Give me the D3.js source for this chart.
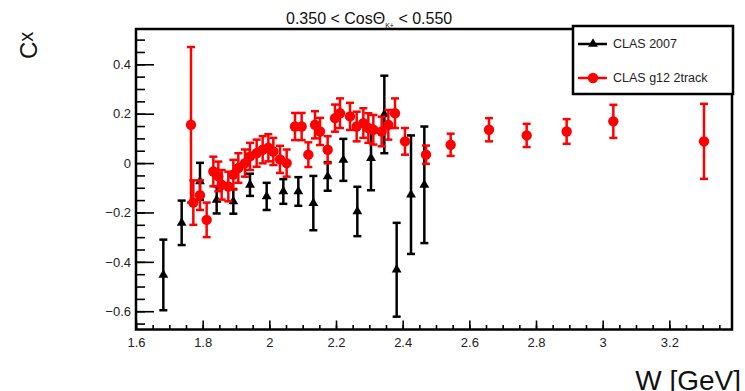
<!DOCTYPE html>
<html>
<head>
<meta charset="utf-8">
<script src="https://cdn.jsdelivr.net/npm/d3@7"></script>
<style>
    body { margin: 0; background: #fff; }
    svg { display: block; font-family: 'Liberation Sans', Arial, sans-serif; }
</style>
</head>
<body>
<div id="chart"></div>
<script>
'use strict';

// CLAS 2007 points
const w2007 = [1.682, 1.737, 1.792, 1.842, 1.892, 1.942, 1.992, 2.042, 2.087, 2.132,
    2.175, 2.222, 2.264, 2.305, 2.345, 2.382, 2.425, 2.465];
const cx2007 = [-0.453, -0.242, -0.074, -0.149, -0.155, -0.088, -0.135, -0.115, -0.115, -0.162,
    -0.054, 0.013, -0.196, 0.020, 0.197, -0.432, -0.128, -0.088];
const err2007 = [0.143, 0.090, 0.075, 0.055, 0.050, 0.045, 0.055, 0.050, 0.058, 0.110,
    0.058, 0.085, 0.100, 0.130, 0.157, 0.190, 0.240, 0.236];

// CLAS g12 2track points
const wG12 = [1.765, 1.772, 1.792, 1.812, 1.832, 1.847, 1.857, 1.877, 1.892, 1.907,
    1.927, 1.942, 1.962, 1.980, 1.997, 2.012, 2.032, 2.052, 2.077, 2.097,
    2.117, 2.137, 2.152, 2.175, 2.197, 2.212, 2.242, 2.262, 2.282, 2.297,
    2.312, 2.337, 2.357, 2.377, 2.407, 2.470, 2.544, 2.659, 2.772, 2.892,
    3.032, 3.187, 3.304];
const cxG12 = [0.155, -0.160, -0.130, -0.230, -0.034, -0.054, -0.088, -0.095, -0.047, -0.020,
    0.000, 0.027, 0.040, 0.054, 0.062, 0.047, 0.015, 0.000, 0.148, 0.148,
    0.034, 0.155, 0.128, 0.054, 0.182, 0.202, 0.189, 0.148, 0.162, 0.142,
    0.135, 0.128, 0.155, 0.202, 0.088, 0.034, 0.074, 0.135, 0.112, 0.128,
    0.169, 0.405, 0.088];
const errG12 = [0.315, 0.090, 0.060, 0.070, 0.060, 0.060, 0.060, 0.060, 0.060, 0.060,
    0.055, 0.055, 0.055, 0.055, 0.055, 0.055, 0.055, 0.055, 0.055, 0.055,
    0.050, 0.055, 0.055, 0.055, 0.055, 0.060, 0.055, 0.060, 0.060, 0.060,
    0.060, 0.060, 0.060, 0.060, 0.054, 0.037, 0.045, 0.047, 0.047, 0.050,
    0.067, 0.090, 0.152];

const xTicks = [1.6, 1.8, 2.0, 2.2, 2.4, 2.6, 2.8, 3.0, 3.2];
const yTicks = [-0.6, -0.4, -0.2, 0, 0.2, 0.4];

const width = 745;
const height = 391;
const margin = { top: 29, right: 13, bottom: 61.5, left: 136 };
const chartWidth = width - margin.left - margin.right;
const chartHeight = height - margin.top - margin.bottom;

const svg = d3.select('#chart')
    .append('svg')
    .attr('width', width)
    .attr('height', height);

const chart = svg.append('g')
    .attr('transform', `translate(${margin.left},${margin.top})`);

// scales
const xScale = d3.scaleLinear()
    .domain([1.6, 3.388])
    .range([0, chartWidth]);

const yScale = d3.scaleLinear()
    .domain([-0.674, 0.543])
    .range([chartHeight, 0]);

function numFormat(d) {
    if (Math.abs(d) < 1e-9) return '0';
    return d3.format('~g')(+d.toFixed(2)).replace('-', '\u2212');
}

// minor ticks
chart.append('g')
    .attr('transform', `translate(0,${chartHeight})`)
    .call(d3.axisBottom(xScale)
        .tickValues(d3.range(1.6, 3.38, 0.05))
        .tickSize(-4.5)
        .tickFormat(''))
    .call(g => g.select('.domain').remove());

chart.append('g')
    .call(d3.axisLeft(yScale)
        .tickValues(d3.range(-0.65, 0.53, 0.05))
        .tickSize(-9)
        .tickFormat(''))
    .call(g => g.select('.domain').remove());

// major ticks and labels
const xAxis = chart.append('g')
    .attr('transform', `translate(0,${chartHeight})`)
    .call(d3.axisBottom(xScale)
        .tickValues(xTicks)
        .tickSize(-9)
        .tickPadding(8)
        .tickFormat(numFormat));
xAxis.select('.domain').remove();

const yAxis = chart.append('g')
    .call(d3.axisLeft(yScale)
        .tickValues(yTicks)
        .tickSize(-18)
        .tickPadding(5)
        .tickFormat(numFormat));
yAxis.select('.domain').remove();

chart.selectAll('.tick line')
    .attr('stroke', '#000')
    .attr('stroke-width', 1.6);
chart.selectAll('.tick text')
    .attr('font-size', 13)
    .attr('font-family', "'Liberation Sans', Arial, sans-serif")
    .attr('fill', '#222');

// frame
chart.append('rect')
    .attr('width', chartWidth)
    .attr('height', chartHeight)
    .attr('fill', 'none')
    .attr('stroke', '#000')
    .attr('stroke-width', 2.5);

// draws one series with error bars
function drawSeries(ws, vals, errs, colour, marker) {
    const pts = ws.map(function (w, i) {
        return { w: w, v: vals[i], e: errs[i] };
    });
    const g = chart.append('g');

    g.selectAll('line.bar')
        .data(pts)
        .join('line')
        .attr('class', 'bar')
        .attr('x1', d => xScale(d.w))
        .attr('x2', d => xScale(d.w))
        .attr('y1', d => yScale(d.v - d.e))
        .attr('y2', d => yScale(d.v + d.e))
        .attr('stroke', colour)
        .attr('stroke-width', 2.5);

    const caps = pts.flatMap(d => [d.v - d.e, d.v + d.e].map(y => ({ w: d.w, y: y })));
    g.selectAll('line.cap')
        .data(caps)
        .join('line')
        .attr('class', 'cap')
        .attr('x1', d => xScale(d.w) - 4)
        .attr('x2', d => xScale(d.w) + 4)
        .attr('y1', d => yScale(d.y))
        .attr('y2', d => yScale(d.y))
        .attr('stroke', colour)
        .attr('stroke-width', 2.5);

    if (marker === 'circle') {
        g.selectAll('circle')
            .data(pts)
            .join('circle')
            .attr('cx', d => xScale(d.w))
            .attr('cy', d => yScale(d.v))
            .attr('r', 5.2)
            .attr('fill', colour);
    } else {
        g.selectAll('path.mk')
            .data(pts)
            .join('path')
            .attr('class', 'mk')
            .attr('transform', d => `translate(${xScale(d.w)},${yScale(d.v)})`)
            .attr('d', d3.symbol(d3.symbolTriangle, 42))
            .attr('fill', colour);
    }
}

drawSeries(w2007, cx2007, err2007, '#000', 'triangle');

// legend (drawn before the g12 points, which sit on top of it)
const legend = svg.append('g');
legend.append('rect')
    .attr('x', 573)
    .attr('y', 26)
    .attr('width', 160)
    .attr('height', 68)
    .attr('fill', '#fff')
    .attr('stroke', '#000')
    .attr('stroke-width', 2.5);

const legendItems = [
    { label: 'CLAS 2007', colour: '#000', marker: 'triangle', y: 44 },
    { label: 'CLAS g12 2track', colour: '#ff0000', marker: 'circle', y: 78 }
];
legendItems.forEach(function (item) {
    legend.append('line')
        .attr('x1', 578).attr('x2', 607)
        .attr('y1', item.y).attr('y2', item.y)
        .attr('stroke', item.colour)
        .attr('stroke-width', 2.5);
    if (item.marker === 'circle') {
        legend.append('circle')
            .attr('cx', 593).attr('cy', item.y).attr('r', 5.2)
            .attr('fill', item.colour);
    } else {
        legend.append('path')
            .attr('transform', `translate(593,${item.y})`)
            .attr('d', d3.symbol(d3.symbolTriangle, 42))
            .attr('fill', item.colour);
    }
    legend.append('text')
        .attr('x', 613)
        .attr('y', item.y)
        .attr('dominant-baseline', 'central')
        .attr('font-size', 12.5)
        .attr('fill', '#222')
        .text(item.label);
});

drawSeries(wG12, cxG12, errG12, '#ff0000', 'circle');

// title
const title = svg.append('text')
    .attr('x', 286)
    .attr('y', 24)
    .attr('font-size', 16)
    .attr('fill', '#111');
title.append('tspan').text('0.350 < Cos\u0398');
title.append('tspan').attr('font-size', 7).attr('dy', 4).text('K+');
title.append('tspan').attr('dy', -4).text(' < 0.550');

// axis titles
svg.append('text')
    .attr('x', 741)
    .attr('y', 390)
    .attr('text-anchor', 'end')
    .attr('font-size', 28)
    .attr('fill', '#111')
    .text('W [GeV]');

const yTitle = svg.append('text')
    .attr('transform', 'translate(37,59) rotate(-90)')
    .attr('font-size', 24)
    .attr('fill', '#111');
yTitle.append('tspan').text('C');
yTitle.append('tspan').attr('font-size', 20).attr('dy', -4).text('x');
</script>
</body>
</html>
